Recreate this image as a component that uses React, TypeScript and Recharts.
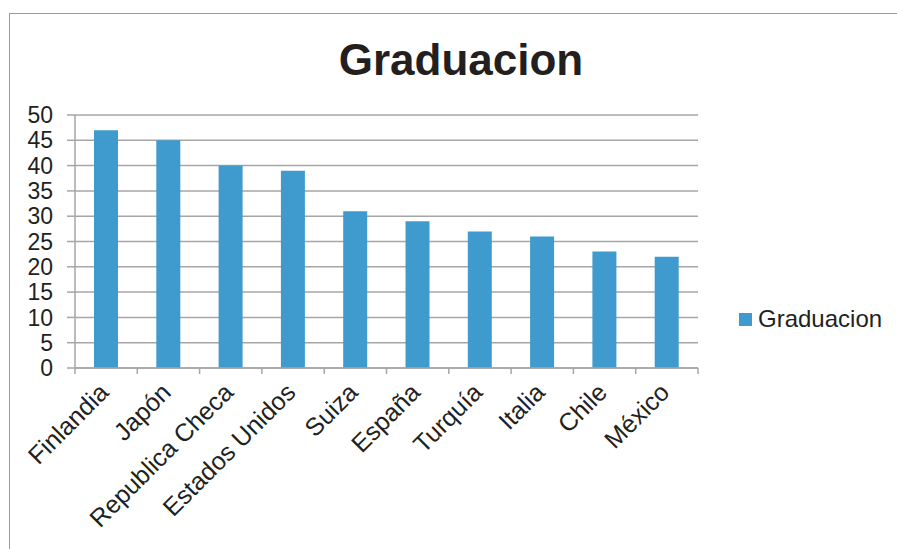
import { BarChart, Bar, XAxis, YAxis, CartesianGrid } from 'recharts'

const countries = ['Finlandia', 'Japón', 'Republica Checa', 'Estados Unidos', 'Suiza', 'España', 'Turquía', 'Italia', 'Chile', 'México']
const graduacion = [47, 45, 40, 39, 31, 29, 27, 26, 23, 22]
const yTicks = [0, 5, 10, 15, 20, 25, 30, 35, 40, 45, 50]

const data = countries.map((c, i) => ({ name: c, Graduacion: graduacion[i] }))

const FONT = '"Liberation Sans", Arial, sans-serif'
const TEXT = '#231f20'
const GRID = '#a6a6a6'
const BAR = '#3f9bcd'
const BAND = (698 - 75) / countries.length

function CountryTick(props: any) {
  const { x, y, payload, index } = props
  const last = index === countries.length - 1
  return (
    <g>
      <line x1={x - BAND / 2} y1={y} x2={x - BAND / 2} y2={y + 6} stroke={GRID} strokeWidth={1.5} />
      {last && <line x1={x + BAND / 2} y1={y} x2={x + BAND / 2} y2={y + 6} stroke={GRID} strokeWidth={1.5} />}
      <text
        x={x + 4}
        y={y + 26}
        textAnchor="end"
        transform={`rotate(-45 ${x + 4} ${y + 26})`}
        fontSize={25}
        fontFamily={FONT}
        fill={TEXT}
      >
        {payload.value}
      </text>
    </g>
  )
}

export default function App() {
  return (
    <div style={{ position: 'fixed', left: 0, top: 0, width: 897, height: 549, background: '#fff', overflow: 'hidden' }}>
      <div style={{ position: 'absolute', left: 9, top: 13, width: 1000, height: 1000, border: '1.5px solid #9a9a9a' }} />
      <svg width={897} height={549} style={{ position: 'absolute', left: 0, top: 0 }}>
        <text x={461} y={75} textAnchor="middle" fontSize={44} fontWeight="bold" fontFamily={FONT} fill={TEXT}>
          Graduacion
        </text>
      </svg>
      <div style={{ position: 'absolute', left: 0, top: 0 }}>
        <BarChart width={897} height={549} data={data} margin={{ top: 115, right: 199, bottom: 0, left: 0 }} barCategoryGap={0}>
          <CartesianGrid vertical={false} stroke={GRID} strokeWidth={1.5} />
          <XAxis
            dataKey="name"
            height={181}
            interval={0}
            tickLine={false}
            tickSize={0}
            tickMargin={0}
            axisLine={{ stroke: GRID, strokeWidth: 1.5 }}
            tick={<CountryTick />}
          />
          <YAxis
            width={75}
            domain={[0, 50]}
            ticks={yTicks}
            interval={0}
            tickSize={8}
            tickMargin={14}
            tickLine={{ stroke: GRID, strokeWidth: 1.5 }}
            axisLine={{ stroke: GRID, strokeWidth: 1.5 }}
            tick={{ fontSize: 23, fontFamily: FONT, fill: TEXT }}
          />
          <Bar dataKey="Graduacion" fill={BAR} barSize={24} isAnimationActive={false} />
        </BarChart>
      </div>
      <div style={{ position: 'absolute', left: 739, top: 305, display: 'flex', alignItems: 'center', fontFamily: FONT, fontSize: 24, color: TEXT }}>
        <span style={{ width: 13, height: 13, background: BAR, display: 'inline-block', marginRight: 6 }} />
        <span>Graduacion</span>
      </div>
    </div>
  )
}
